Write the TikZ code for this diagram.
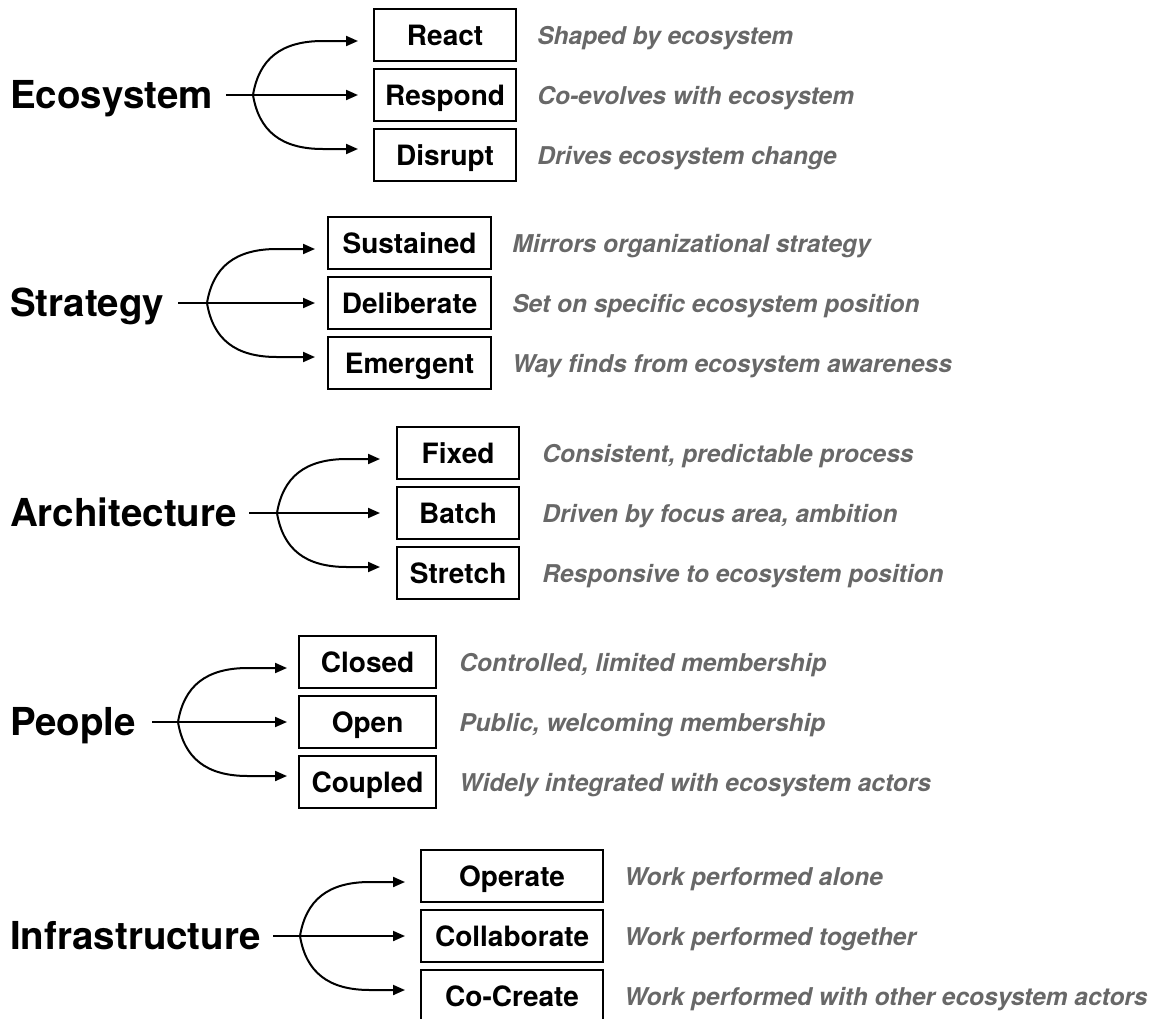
\documentclass[tikz,border=0pt]{standalone}
\usepackage{fontspec}
\setmainfont{TeX Gyre Heros}
\usetikzlibrary{arrows.meta,calc}
\definecolor{descgray}{RGB}{104,104,104}
\tikzset{
  root/.style={anchor=west, inner sep=0pt, text height=27.7pt, text depth=0pt,
    font=\fontsize{38.5}{40}\selectfont\bfseries},
  choice/.style={draw, line width=2.2pt, minimum height=52pt, inner sep=0pt,
    text height=20.2pt, text depth=0pt, anchor=west,
    font=\fontsize{28}{30}\selectfont\bfseries},
  desc/.style={anchor=base west, inner sep=0pt, text=descgray,
    font=\fontsize{24.5}{26}\selectfont\bfseries\itshape},
  link/.style={line width=2pt, -{Triangle[length=12pt,width=10pt]}},
}
\begin{document}
\begin{tikzpicture}[x=1pt, y=-1pt]
\useasboundingbox (0,0) rectangle (1159,1018);

% ---- Ecosystem ----
\node[root] (eco) at (10,95) {Ecosystem};
\node[choice, minimum width=142pt] (react)   at (373,35)  {React};
\node[choice, minimum width=142pt] (respond) at (373,95)  {Respond};
\node[choice, minimum width=142pt] (disrupt) at (373,155) {Disrupt};
\node[desc] (reactD)   at ($(react.east)+(20,9)$)   {Shaped by ecosystem};
\node[desc] (respondD) at ($(respond.east)+(20,9)$) {Co-evolves with ecosystem};
\node[desc] (disruptD) at ($(disrupt.east)+(20,9)$) {Drives ecosystem change};
\coordinate (ecoB) at (253,95);
\draw[link] ($(eco.east)+(13,0)$) -- ($(respond.west)+(-15,0)$);
\draw[link] (ecoB) .. controls +(6,-36) and +(-42,0) .. ($(ecoB)+(70,-54)$) -- ($(react.west)+(-15,6)$);
\draw[link] (ecoB) .. controls +(6,36) and +(-42,0) .. ($(ecoB)+(70,54)$) -- ($(disrupt.west)+(-15,-6)$);

% ---- Strategy ----
\node[root] (str) at (10,303) {Strategy};
\node[choice, minimum width=163pt] (sustained)  at (327,243) {Sustained};
\node[choice, minimum width=163pt] (deliberate) at (327,303) {Deliberate};
\node[choice, minimum width=163pt] (emergent)   at (327,363) {Emergent};
\node[desc] (sustainedD)  at ($(sustained.east)+(20,9)$)  {Mirrors organizational strategy};
\node[desc] (deliberateD) at ($(deliberate.east)+(20,9)$) {Set on specific ecosystem position};
\node[desc] (emergentD)   at ($(emergent.east)+(20,9)$)   {Way finds from ecosystem awareness};
\coordinate (strB) at (207,303);
\draw[link] ($(str.east)+(14,0)$) -- ($(deliberate.west)+(-12,0)$);
\draw[link] (strB) .. controls +(6,-36) and +(-42,0) .. ($(strB)+(70,-54)$) -- ($(sustained.west)+(-12,6)$);
\draw[link] (strB) .. controls +(6,36) and +(-42,0) .. ($(strB)+(70,54)$) -- ($(emergent.west)+(-12,-6)$);

% ---- Architecture ----
\node[root] (arch) at (10,513) {Architecture};
\node[choice, minimum width=122pt] (fixed)   at (396,453) {Fixed};
\node[choice, minimum width=122pt] (batch)   at (396,513) {Batch};
\node[choice, minimum width=122pt] (stretch) at (396,573) {Stretch};
\node[desc] (fixedD)   at ($(fixed.east)+(22,9)$)   {Consistent, predictable process};
\node[desc] (batchD)   at ($(batch.east)+(22,9)$)   {Driven by focus area, ambition};
\node[desc] (stretchD) at ($(stretch.east)+(22,9)$) {Responsive to ecosystem position};
\coordinate (archB) at (277,513);
\draw[link] ($(arch.east)+(12,0)$) -- ($(batch.west)+(-16,0)$);
\draw[link] (archB) .. controls +(6,-36) and +(-42,0) .. ($(archB)+(70,-54)$) -- ($(fixed.west)+(-16,6)$);
\draw[link] (archB) .. controls +(6,36) and +(-42,0) .. ($(archB)+(70,54)$) -- ($(stretch.west)+(-16,-6)$);

% ---- People ----
\node[root] (ppl) at (10,722) {People};
\node[choice, minimum width=137pt] (closed)  at (298,662) {Closed};
\node[choice, minimum width=137pt] (open)    at (298,722) {Open};
\node[choice, minimum width=137pt] (coupled) at (298,782) {Coupled};
\node[desc] (closedD)  at ($(closed.east)+(22,9)$)  {Controlled, limited membership};
\node[desc] (openD)    at ($(open.east)+(22,9)$)    {Public, welcoming membership};
\node[desc] (coupledD) at ($(coupled.east)+(22,9)$) {Widely integrated with ecosystem actors};
\coordinate (pplB) at (178,722);
\draw[link] ($(ppl.east)+(16,0)$) -- ($(open.west)+(-11,0)$);
\draw[link] (pplB) .. controls +(6,-36) and +(-42,0) .. ($(pplB)+(70,-54)$) -- ($(closed.west)+(-11,6)$);
\draw[link] (pplB) .. controls +(6,36) and +(-42,0) .. ($(pplB)+(70,54)$) -- ($(coupled.west)+(-11,-6)$);

% ---- Infrastructure ----
\node[root] (infra) at (10,936) {Infrastructure};
\node[choice, minimum width=182pt] (operate)     at (420,876) {Operate};
\node[choice, minimum width=182pt] (collaborate) at (420,936) {Collaborate};
\node[choice, minimum width=182pt] (cocreate)    at (420,996) {Co-Create};
\node[desc] (operateD)     at ($(operate.east)+(20,9)$)     {Work performed alone};
\node[desc] (collaborateD) at ($(collaborate.east)+(20,9)$) {Work performed together};
\node[desc] (cocreateD)    at ($(cocreate.east)+(20,9)$)    {Work performed with other ecosystem actors};
\coordinate (infraB) at (300,936);
\draw[link] ($(infra.east)+(12,0)$) -- ($(collaborate.west)+(-15,0)$);
\draw[link] (infraB) .. controls +(6,-36) and +(-42,0) .. ($(infraB)+(70,-54)$) -- ($(operate.west)+(-15,6)$);
\draw[link] (infraB) .. controls +(6,36) and +(-42,0) .. ($(infraB)+(70,54)$) -- ($(cocreate.west)+(-15,-6)$);
\end{tikzpicture}
\end{document}
